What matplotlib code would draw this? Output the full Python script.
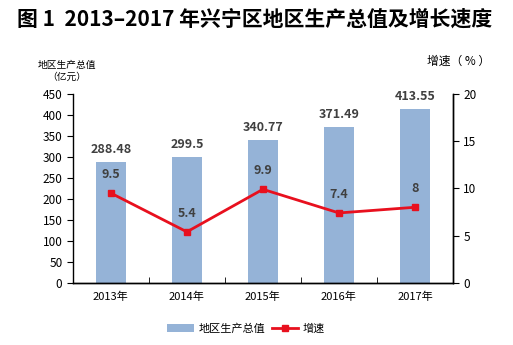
import matplotlib

matplotlib.use("Agg")
import matplotlib.pyplot as plt
import numpy as np

plt.rcParams["font.family"] = ["Noto Sans CJK SC", "DejaVu Sans"]

years = ["2013年", "2014年", "2015年", "2016年", "2017年"]
gdp = [288.48, 299.5, 340.77, 371.49, 413.55]
growth = [9.5, 5.4, 9.9, 7.4, 8]
gdp_labels = ["288.48", "299.5", "340.77", "371.49", "413.55"]
growth_labels = ["9.5", "5.4", "9.9", "7.4", "8"]

BAR_COLOR = "#95B3D7"
LINE_COLOR = "#E8101E"
TXT = "#404040"

fig = plt.figure(figsize=(5.13, 3.45), dpi=100)
ax = fig.add_axes([0.142, 0.180, 0.741, 0.548])
ax2 = ax.twinx()

x = np.arange(len(years))
ax.bar(x, gdp, width=0.4, color=BAR_COLOR, label="地区生产总值", zorder=2)
for xi, v, s in zip(x, gdp, gdp_labels):
    ax.text(xi, v + 14, s, ha="center", va="bottom", fontsize=9,
            color=TXT, fontweight="bold")

ax2.plot(x, growth, color=LINE_COLOR, lw=2, marker="s", markersize=4.5,
         label="增速", zorder=3)
for xi, v, s in zip(x, growth, growth_labels):
    ax2.text(xi, v + 1.3, s, ha="center", va="bottom", fontsize=9,
             color=TXT, fontweight="bold")

ax.set_xlim(-0.5, 4.5)
ax.set_ylim(0, 450)
ax.set_yticks(range(0, 451, 50))
ax2.set_ylim(0, 20)
ax2.set_yticks(range(0, 21, 5))

ax.set_xticks(x)
ax.set_xticklabels(years, fontsize=8)
ax.set_xticks(np.arange(0.5, 4.5, 1), minor=True)
ax.tick_params(axis="x", which="major", length=0, pad=6)
ax.tick_params(axis="x", which="minor", length=4, direction="in")
ax.tick_params(axis="y", labelsize=8.5, length=4, direction="out")
ax2.tick_params(axis="y", labelsize=8.5, length=4, direction="out")

for a in (ax, ax2):
    a.spines["top"].set_visible(False)
    for sp in a.spines.values():
        sp.set_linewidth(1.0)
        sp.set_color("black")
ax2.spines["left"].set_visible(False)

fig.text(0.033, 0.945, "图 1  2013–2017 年兴宁区地区生产总值及增长速度",
         fontsize=15, fontweight="bold", ha="left", va="center")
fig.text(0.13, 0.795, "地区生产总值\n（亿元）", fontsize=7, ha="center",
         va="center", linespacing=1.3)
fig.text(0.893, 0.822, "增速（ % ）", fontsize=8.5, ha="center", va="center")

h1, l1 = ax.get_legend_handles_labels()
h2, l2 = ax2.get_legend_handles_labels()
fig.legend(h1 + h2, l1 + l2, loc="center", bbox_to_anchor=(0.48, 0.047),
           ncol=2, frameon=False, fontsize=8, handlelength=2.4,
           columnspacing=0.6, handletextpad=0.4)

fig.savefig("out.png", dpi=100)
